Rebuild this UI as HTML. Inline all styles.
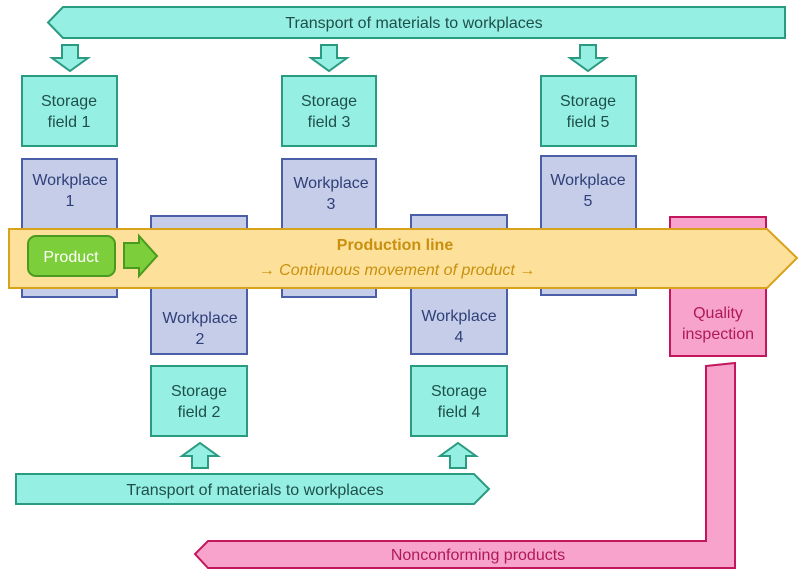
<!DOCTYPE html>
<html><head><meta charset="utf-8"><style>
html,body{margin:0;padding:0;background:#fff;}
svg{display:block;}
text{font-family:"Liberation Sans",sans-serif;font-size:16px;text-anchor:middle;}
.tl{fill:#1f4f4a;}
.wl{fill:#2f3f78;}
</style></head><body>
<svg width="800" height="586" viewBox="0 0 800 586" xmlns="http://www.w3.org/2000/svg">
<g stroke="#2a9a80" stroke-width="2" fill="#95efe3">
<polygon points="63,7 785,7 785,38 63,38 48,22.5"/>
<polygon points="62,45 78,45 78,58 88,58 70,71 52,58 62,58"/>
<polygon points="321,45 337,45 337,58 347,58 329,71 311,58 321,58"/>
<polygon points="580,45 596,45 596,58 606,58 588,71 570,58 580,58"/>
<rect x="22" y="76" width="95" height="70"/>
<rect x="282" y="76" width="94" height="70"/>
<rect x="541" y="76" width="95" height="70"/>
<rect x="151" y="366" width="96" height="70"/>
<rect x="411" y="366" width="96" height="70"/>
<polygon points="192,468 208,468 208,456 218,456 200,443 182,456 192,456"/>
<polygon points="450,468 466,468 466,456 476,456 458,443 440,456 450,456"/>
<polygon points="16,474 474,474 489,489 474,504 16,504"/>
</g>
<g stroke="#4a5fa8" stroke-width="2" fill="#c6cde9">
<rect x="22" y="159" width="95" height="138"/>
<rect x="282" y="159" width="94" height="138"/>
<rect x="541" y="156" width="95" height="139"/>
<rect x="151" y="216" width="96" height="138"/>
<rect x="411" y="215" width="96" height="139"/>
</g>
<rect x="670" y="217" width="96" height="139" fill="#f7a3cb" stroke="#c2185b" stroke-width="2"/>
<polygon points="706,366 735,363 735,568 208,568 195,554 208,541 706,541" fill="#f7a3cb" stroke="#c2185b" stroke-width="2"/>
<polygon points="9,229 767,229 797,258 767,288 9,288" fill="#fde09a" stroke="#d9a21b" stroke-width="2"/>
<rect x="28" y="236" width="87" height="40" rx="8" fill="#7ccf3a" stroke="#4a9a20" stroke-width="2"/>
<polygon points="124,243 139,243 139,236 157,256 139,276 139,268 124,268" fill="#7ccf3a" stroke="#4a9a20" stroke-width="2"/>
<text x="414" y="28" class="tl">Transport of materials to workplaces</text>
<text x="255" y="495" class="tl">Transport of materials to workplaces</text>
<text x="69" y="106" class="tl">Storage</text><text x="69" y="127" class="tl">field 1</text>
<text x="329" y="106" class="tl">Storage</text><text x="329" y="127" class="tl">field 3</text>
<text x="588" y="106" class="tl">Storage</text><text x="588" y="127" class="tl">field 5</text>
<text x="199" y="396" class="tl">Storage</text><text x="199" y="417" class="tl">field 2</text>
<text x="459" y="396" class="tl">Storage</text><text x="459" y="417" class="tl">field 4</text>
<text x="70" y="185" class="wl">Workplace</text><text x="70" y="206" class="wl">1</text>
<text x="331" y="188" class="wl">Workplace</text><text x="331" y="209" class="wl">3</text>
<text x="588" y="185" class="wl">Workplace</text><text x="588" y="206" class="wl">5</text>
<text x="200" y="323" class="wl">Workplace</text><text x="200" y="344" class="wl">2</text>
<text x="459" y="321" class="wl">Workplace</text><text x="459" y="342" class="wl">4</text>
<text x="718" y="318" fill="#b0185a">Quality</text><text x="718" y="339" fill="#b0185a">inspection</text>
<text x="478" y="560" fill="#b0185a">Nonconforming products</text>
<text x="71" y="262" fill="#fff">Product</text>
<text x="395" y="250" fill="#c8900e" font-weight="bold">Production line</text>
<text x="397" y="275" fill="#c8900e" font-style="italic">→ Continuous movement of product →</text>
</svg>
</body></html>
